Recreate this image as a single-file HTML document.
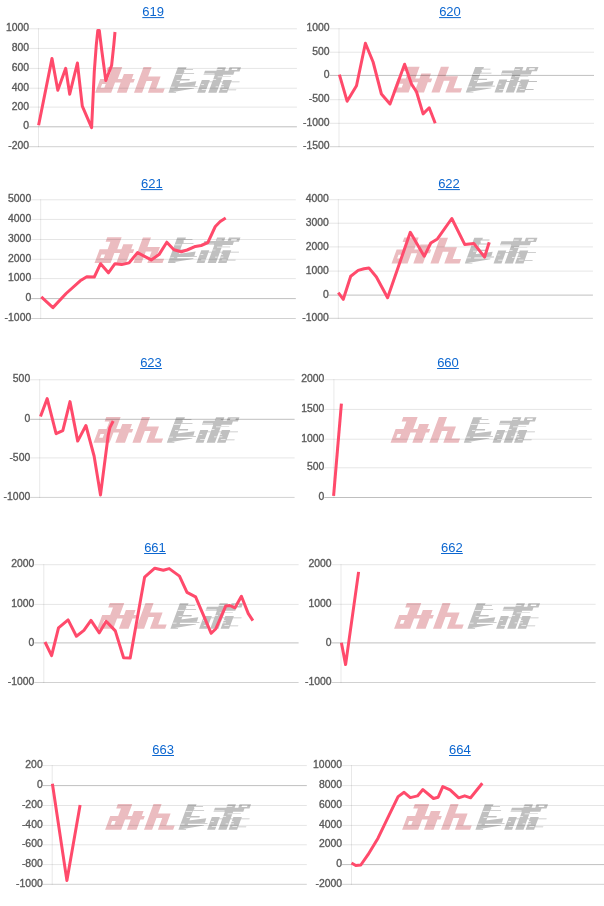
<!DOCTYPE html>
<html><head><meta charset="utf-8"><style>
html,body{margin:0;padding:0;background:#fff;width:604px;height:906px;overflow:hidden}
svg{display:block;will-change:transform}
.lb,.tt{opacity:0.999}
.lb{font-family:"Liberation Sans",sans-serif;font-size:10.4px;fill:#5a5a5a;stroke:#5a5a5a;stroke-width:0.35px}
.tt{font-family:"Liberation Sans",sans-serif;font-size:13px;fill:#0b66d0}
</style></head><body>
<svg width="604" height="906" viewBox="0 0 604 906">
<path d="M107.85,67.00 L122.25,67.00 L120.62,71.40 L106.22,71.40ZM111.09,71.20 L120.69,71.20 L117.77,79.10 L108.17,79.10ZM100.24,78.90 L134.84,78.90 L133.47,82.60 L98.87,82.60ZM123.89,73.90 L133.59,73.90 L126.60,92.80 L116.90,92.80ZM98.95,82.40 L115.05,82.40 L111.20,92.80 L95.10,92.80ZM100.75,87.80 L104.35,87.80 L105.72,84.10 L102.12,84.10ZM143.51,67.10 L151.61,67.10 L142.10,92.80 L134.00,92.80ZM147.89,76.60 L160.59,76.60 L158.93,81.10 L146.23,81.10ZM153.89,76.60 L160.59,76.60 L154.60,92.80 L147.90,92.80ZM149.49,88.50 L164.69,88.50 L163.10,92.80 L147.90,92.80Z" fill="#ebbcc0" fill-rule="nonzero"/><path d="M177.87,67.20 L185.37,67.20 L175.90,92.80 L168.40,92.80ZM177.87,67.20 L186.57,67.20 L185.91,69.00 L177.21,69.00ZM177.21,69.00 L193.21,69.00 L192.91,69.80 L176.91,69.80ZM176.39,71.20 L184.59,71.20 L184.00,72.80 L175.80,72.80ZM175.73,73.00 L194.23,73.00 L193.93,73.80 L175.43,73.80ZM173.47,79.10 L189.87,79.10 L189.39,80.40 L172.99,80.40ZM178.50,83.60 L196.29,81.20 L194.93,85.70 L177.43,86.50ZM170.92,86.00 L197.72,86.00 L197.42,86.80 L170.62,86.80ZM168.40,92.80 L170.18,88.00 L194.08,88.00 L193.85,88.60ZM217.67,67.20 L225.97,67.20 L216.50,92.80 L208.20,92.80ZM204.98,70.70 L234.78,70.70 L233.30,74.70 L203.50,74.70ZM214.30,76.30 L230.90,76.30 L230.61,77.10 L214.01,77.10ZM201.87,79.90 L209.87,79.90 L205.10,92.80 L197.10,92.80ZM223.37,79.90 L231.87,79.90 L227.10,92.80 L218.60,92.80ZM201.32,81.40 L239.72,81.40 L239.42,82.20 L201.02,82.20ZM219.86,89.40 L236.36,89.40 L236.06,90.20 L219.56,90.20ZM229.57,67.20 L241.07,67.20 L239.48,71.50 L227.98,71.50ZM231.50,70.10 L237.00,70.10 L237.55,68.60 L232.05,68.60Z" fill="#c0c0c0" fill-rule="nonzero"/><path d="M217.21,69.25 L222.51,69.25 L222.25,69.95 L216.95,69.95ZM204.02,73.55 L214.62,73.55 L214.36,74.25 L203.76,74.25ZM217.75,76.45 L230.75,76.45 L230.49,77.15 L217.49,77.15ZM213.08,79.35 L216.28,79.35 L216.02,80.05 L212.82,80.05ZM201.34,84.05 L204.04,84.05 L203.78,84.75 L201.08,84.75ZM220.94,84.05 L223.64,84.05 L223.38,84.75 L220.68,84.75ZM215.75,86.45 L218.35,86.45 L218.09,87.15 L215.49,87.15ZM220.95,86.45 L224.15,86.45 L223.89,87.15 L220.69,87.15ZM201.91,89.25 L207.21,89.25 L206.95,89.95 L201.65,89.95ZM222.51,89.25 L227.31,89.25 L227.05,89.95 L222.25,89.95ZM175.76,74.25 L182.16,74.25 L181.90,74.95 L175.50,74.95ZM176.74,80.25 L179.94,80.25 L179.68,80.95 L176.48,80.95ZM170.90,86.85 L174.70,86.85 L174.44,87.55 L170.64,87.55Z" fill="#fff" opacity="0.85"/>
<rect x="28.90" y="28.30" width="268.00" height="1" fill="rgba(0,0,0,0.1)"/>
<text x="29.00" y="31.40" text-anchor="end" class="lb">1000</text>
<rect x="28.90" y="47.90" width="268.00" height="1" fill="rgba(0,0,0,0.1)"/>
<text x="29.00" y="51.00" text-anchor="end" class="lb">800</text>
<rect x="28.90" y="67.90" width="268.00" height="1" fill="rgba(0,0,0,0.1)"/>
<text x="29.00" y="71.00" text-anchor="end" class="lb">600</text>
<rect x="28.90" y="87.70" width="268.00" height="1" fill="rgba(0,0,0,0.1)"/>
<text x="29.00" y="90.80" text-anchor="end" class="lb">400</text>
<rect x="28.90" y="106.60" width="268.00" height="1" fill="rgba(0,0,0,0.1)"/>
<text x="29.00" y="109.70" text-anchor="end" class="lb">200</text>
<rect x="28.90" y="126.30" width="268.00" height="1" fill="rgba(0,0,0,0.25)"/>
<text x="29.00" y="129.40" text-anchor="end" class="lb">0</text>
<rect x="28.90" y="146.20" width="268.00" height="1" fill="rgba(0,0,0,0.18)"/>
<text x="29.00" y="149.30" text-anchor="end" class="lb">-200</text>
<rect x="38.00" y="28.30" width="1" height="118.90" fill="rgba(0,0,0,0.09)"/>
<text x="153.20" y="15.70" text-anchor="middle" class="tt">619</text>
<rect x="142.30" y="17.10" width="21.8" height="1" fill="#0b66d0"/>
<polyline points="38.60,125.30 52.00,58.40 57.80,90.20 65.70,68.30 69.70,94.20 77.40,63.00 82.30,106.10 91.60,127.60 94.30,71.40 96.30,44.90 97.80,30.50 99.30,30.50 101.90,51.50 105.80,80.50 111.60,65.50 113.80,45.00 115.00,32.00" fill="none" stroke="#ff4a6b" stroke-width="3.0" stroke-linejoin="round" stroke-linecap="butt"/>
<path d="M405.25,66.70 L419.65,66.70 L418.02,71.10 L403.62,71.10ZM408.49,70.90 L418.09,70.90 L415.17,78.80 L405.57,78.80ZM397.64,78.60 L432.24,78.60 L430.87,82.30 L396.27,82.30ZM421.29,73.60 L430.99,73.60 L424.00,92.50 L414.30,92.50ZM396.35,82.10 L412.45,82.10 L408.60,92.50 L392.50,92.50ZM398.15,87.50 L401.75,87.50 L403.12,83.80 L399.52,83.80ZM440.91,66.80 L449.01,66.80 L439.50,92.50 L431.40,92.50ZM445.29,76.30 L457.99,76.30 L456.33,80.80 L443.63,80.80ZM451.29,76.30 L457.99,76.30 L452.00,92.50 L445.30,92.50ZM446.89,88.20 L462.09,88.20 L460.50,92.50 L445.30,92.50Z" fill="#ebbcc0" fill-rule="nonzero"/><path d="M475.27,66.90 L482.77,66.90 L473.30,92.50 L465.80,92.50ZM475.27,66.90 L483.97,66.90 L483.31,68.70 L474.61,68.70ZM474.61,68.70 L490.61,68.70 L490.31,69.50 L474.31,69.50ZM473.79,70.90 L481.99,70.90 L481.40,72.50 L473.20,72.50ZM473.13,72.70 L491.63,72.70 L491.33,73.50 L472.83,73.50ZM470.87,78.80 L487.27,78.80 L486.79,80.10 L470.39,80.10ZM475.90,83.30 L493.69,80.90 L492.33,85.40 L474.83,86.20ZM468.32,85.70 L495.12,85.70 L494.82,86.50 L468.02,86.50ZM465.80,92.50 L467.58,87.70 L491.48,87.70 L491.25,88.30ZM515.07,66.90 L523.37,66.90 L513.90,92.50 L505.60,92.50ZM502.38,70.40 L532.18,70.40 L530.70,74.40 L500.90,74.40ZM511.71,76.00 L528.31,76.00 L528.01,76.80 L511.41,76.80ZM499.27,79.60 L507.27,79.60 L502.50,92.50 L494.50,92.50ZM520.77,79.60 L529.27,79.60 L524.50,92.50 L516.00,92.50ZM498.72,81.10 L537.12,81.10 L536.82,81.90 L498.42,81.90ZM517.26,89.10 L533.76,89.10 L533.46,89.90 L516.96,89.90ZM526.97,66.90 L538.47,66.90 L536.88,71.20 L525.38,71.20ZM528.90,69.80 L534.40,69.80 L534.95,68.30 L529.45,68.30Z" fill="#c0c0c0" fill-rule="nonzero"/><path d="M514.61,68.95 L519.91,68.95 L519.65,69.65 L514.35,69.65ZM501.42,73.25 L512.02,73.25 L511.76,73.95 L501.16,73.95ZM515.15,76.15 L528.15,76.15 L527.89,76.85 L514.89,76.85ZM510.48,79.05 L513.68,79.05 L513.42,79.75 L510.22,79.75ZM498.74,83.75 L501.44,83.75 L501.18,84.45 L498.48,84.45ZM518.34,83.75 L521.04,83.75 L520.78,84.45 L518.08,84.45ZM513.15,86.15 L515.75,86.15 L515.49,86.85 L512.89,86.85ZM518.35,86.15 L521.55,86.15 L521.29,86.85 L518.09,86.85ZM499.31,88.95 L504.61,88.95 L504.35,89.65 L499.05,89.65ZM519.91,88.95 L524.71,88.95 L524.45,89.65 L519.65,89.65ZM473.16,73.95 L479.56,73.95 L479.30,74.65 L472.90,74.65ZM474.14,79.95 L477.34,79.95 L477.08,80.65 L473.88,80.65ZM468.30,86.55 L472.10,86.55 L471.84,87.25 L468.04,87.25Z" fill="#fff" opacity="0.85"/>
<rect x="329.40" y="28.30" width="264.60" height="1" fill="rgba(0,0,0,0.1)"/>
<text x="329.50" y="31.40" text-anchor="end" class="lb">1000</text>
<rect x="329.40" y="51.70" width="264.60" height="1" fill="rgba(0,0,0,0.1)"/>
<text x="329.50" y="54.80" text-anchor="end" class="lb">500</text>
<rect x="329.40" y="74.90" width="264.60" height="1" fill="rgba(0,0,0,0.25)"/>
<text x="329.50" y="78.00" text-anchor="end" class="lb">0</text>
<rect x="329.40" y="99.20" width="264.60" height="1" fill="rgba(0,0,0,0.1)"/>
<text x="329.50" y="102.30" text-anchor="end" class="lb">-500</text>
<rect x="329.40" y="122.80" width="264.60" height="1" fill="rgba(0,0,0,0.1)"/>
<text x="329.50" y="125.90" text-anchor="end" class="lb">-1000</text>
<rect x="329.40" y="146.20" width="264.60" height="1" fill="rgba(0,0,0,0.18)"/>
<text x="329.50" y="149.30" text-anchor="end" class="lb">-1500</text>
<rect x="338.50" y="28.30" width="1" height="118.90" fill="rgba(0,0,0,0.09)"/>
<text x="450.00" y="15.70" text-anchor="middle" class="tt">620</text>
<rect x="439.10" y="17.10" width="21.8" height="1" fill="#0b66d0"/>
<polyline points="339.40,74.70 347.10,101.20 356.50,85.70 365.40,43.20 373.10,62.00 381.40,94.00 390.00,104.00 404.60,64.20 411.50,84.10 416.50,91.80 423.10,113.90 429.20,107.80 435.20,123.30" fill="none" stroke="#ff4a6b" stroke-width="3.0" stroke-linejoin="round" stroke-linecap="butt"/>
<path d="M107.25,237.30 L121.65,237.30 L120.02,241.70 L105.62,241.70ZM110.49,241.50 L120.09,241.50 L117.17,249.40 L107.57,249.40ZM99.64,249.20 L134.24,249.20 L132.87,252.90 L98.27,252.90ZM123.29,244.20 L132.99,244.20 L126.00,263.10 L116.30,263.10ZM98.35,252.70 L114.45,252.70 L110.60,263.10 L94.50,263.10ZM100.15,258.10 L103.75,258.10 L105.12,254.40 L101.52,254.40ZM142.91,237.40 L151.01,237.40 L141.50,263.10 L133.40,263.10ZM147.29,246.90 L159.99,246.90 L158.33,251.40 L145.63,251.40ZM153.29,246.90 L159.99,246.90 L154.00,263.10 L147.30,263.10ZM148.89,258.80 L164.09,258.80 L162.50,263.10 L147.30,263.10Z" fill="#ebbcc0" fill-rule="nonzero"/><path d="M177.27,237.50 L184.77,237.50 L175.30,263.10 L167.80,263.10ZM177.27,237.50 L185.97,237.50 L185.31,239.30 L176.61,239.30ZM176.61,239.30 L192.61,239.30 L192.31,240.10 L176.31,240.10ZM175.79,241.50 L183.99,241.50 L183.40,243.10 L175.20,243.10ZM175.13,243.30 L193.63,243.30 L193.33,244.10 L174.83,244.10ZM172.87,249.40 L189.27,249.40 L188.79,250.70 L172.39,250.70ZM177.90,253.90 L195.69,251.50 L194.33,256.00 L176.83,256.80ZM170.32,256.30 L197.12,256.30 L196.82,257.10 L170.02,257.10ZM167.80,263.10 L169.58,258.30 L193.48,258.30 L193.25,258.90ZM217.07,237.50 L225.37,237.50 L215.90,263.10 L207.60,263.10ZM204.38,241.00 L234.18,241.00 L232.70,245.00 L202.90,245.00ZM213.70,246.60 L230.30,246.60 L230.01,247.40 L213.41,247.40ZM201.27,250.20 L209.27,250.20 L204.50,263.10 L196.50,263.10ZM222.77,250.20 L231.27,250.20 L226.50,263.10 L218.00,263.10ZM200.72,251.70 L239.12,251.70 L238.82,252.50 L200.42,252.50ZM219.26,259.70 L235.76,259.70 L235.46,260.50 L218.96,260.50ZM228.97,237.50 L240.47,237.50 L238.88,241.80 L227.38,241.80ZM230.90,240.40 L236.40,240.40 L236.95,238.90 L231.45,238.90Z" fill="#c0c0c0" fill-rule="nonzero"/><path d="M216.61,239.55 L221.91,239.55 L221.65,240.25 L216.35,240.25ZM203.42,243.85 L214.02,243.85 L213.76,244.55 L203.16,244.55ZM217.15,246.75 L230.15,246.75 L229.89,247.45 L216.89,247.45ZM212.48,249.65 L215.68,249.65 L215.42,250.35 L212.22,250.35ZM200.74,254.35 L203.44,254.35 L203.18,255.05 L200.48,255.05ZM220.34,254.35 L223.04,254.35 L222.78,255.05 L220.08,255.05ZM215.15,256.75 L217.75,256.75 L217.49,257.45 L214.89,257.45ZM220.35,256.75 L223.55,256.75 L223.29,257.45 L220.09,257.45ZM201.31,259.55 L206.61,259.55 L206.35,260.25 L201.05,260.25ZM221.91,259.55 L226.71,259.55 L226.45,260.25 L221.65,260.25ZM175.16,244.55 L181.56,244.55 L181.30,245.25 L174.90,245.25ZM176.14,250.55 L179.34,250.55 L179.08,251.25 L175.88,251.25ZM170.30,257.15 L174.10,257.15 L173.84,257.85 L170.04,257.85Z" fill="#fff" opacity="0.85"/>
<rect x="31.10" y="199.30" width="264.70" height="1" fill="rgba(0,0,0,0.1)"/>
<text x="31.20" y="202.40" text-anchor="end" class="lb">5000</text>
<rect x="31.10" y="218.90" width="264.70" height="1" fill="rgba(0,0,0,0.1)"/>
<text x="31.20" y="222.00" text-anchor="end" class="lb">4000</text>
<rect x="31.10" y="239.00" width="264.70" height="1" fill="rgba(0,0,0,0.1)"/>
<text x="31.20" y="242.10" text-anchor="end" class="lb">3000</text>
<rect x="31.10" y="258.80" width="264.70" height="1" fill="rgba(0,0,0,0.1)"/>
<text x="31.20" y="261.90" text-anchor="end" class="lb">2000</text>
<rect x="31.10" y="278.10" width="264.70" height="1" fill="rgba(0,0,0,0.1)"/>
<text x="31.20" y="281.20" text-anchor="end" class="lb">1000</text>
<rect x="31.10" y="298.10" width="264.70" height="1" fill="rgba(0,0,0,0.25)"/>
<text x="31.20" y="301.20" text-anchor="end" class="lb">0</text>
<rect x="31.10" y="318.00" width="264.70" height="1" fill="rgba(0,0,0,0.18)"/>
<text x="31.20" y="321.10" text-anchor="end" class="lb">-1000</text>
<rect x="40.20" y="199.30" width="1" height="119.70" fill="rgba(0,0,0,0.09)"/>
<text x="151.80" y="187.70" text-anchor="middle" class="tt">621</text>
<rect x="140.90" y="189.10" width="21.8" height="1" fill="#0b66d0"/>
<polyline points="41.30,296.90 52.90,307.60 66.10,293.50 80.20,280.80 86.80,276.70 94.30,277.00 100.60,263.70 108.40,272.80 115.00,263.70 121.60,264.60 129.10,262.90 137.50,252.60 151.20,259.90 159.00,254.60 166.80,242.20 173.90,249.70 181.30,251.70 187.10,250.00 195.40,246.40 201.20,245.50 207.80,242.70 215.30,226.50 220.20,221.50 225.70,217.90" fill="none" stroke="#ff4a6b" stroke-width="3.0" stroke-linejoin="round" stroke-linecap="butt"/>
<path d="M404.25,237.60 L418.65,237.60 L417.02,242.00 L402.62,242.00ZM407.49,241.80 L417.09,241.80 L414.17,249.70 L404.57,249.70ZM396.64,249.50 L431.24,249.50 L429.87,253.20 L395.27,253.20ZM420.29,244.50 L429.99,244.50 L423.00,263.40 L413.30,263.40ZM395.35,253.00 L411.45,253.00 L407.60,263.40 L391.50,263.40ZM397.15,258.40 L400.75,258.40 L402.12,254.70 L398.52,254.70ZM439.91,237.70 L448.01,237.70 L438.50,263.40 L430.40,263.40ZM444.29,247.20 L456.99,247.20 L455.33,251.70 L442.63,251.70ZM450.29,247.20 L456.99,247.20 L451.00,263.40 L444.30,263.40ZM445.89,259.10 L461.09,259.10 L459.50,263.40 L444.30,263.40Z" fill="#ebbcc0" fill-rule="nonzero"/><path d="M474.27,237.80 L481.77,237.80 L472.30,263.40 L464.80,263.40ZM474.27,237.80 L482.97,237.80 L482.31,239.60 L473.61,239.60ZM473.61,239.60 L489.61,239.60 L489.31,240.40 L473.31,240.40ZM472.79,241.80 L480.99,241.80 L480.40,243.40 L472.20,243.40ZM472.13,243.60 L490.63,243.60 L490.33,244.40 L471.83,244.40ZM469.87,249.70 L486.27,249.70 L485.79,251.00 L469.39,251.00ZM474.90,254.20 L492.69,251.80 L491.33,256.30 L473.83,257.10ZM467.32,256.60 L494.12,256.60 L493.82,257.40 L467.02,257.40ZM464.80,263.40 L466.58,258.60 L490.48,258.60 L490.25,259.20ZM514.07,237.80 L522.37,237.80 L512.90,263.40 L504.60,263.40ZM501.38,241.30 L531.18,241.30 L529.70,245.30 L499.90,245.30ZM510.71,246.90 L527.31,246.90 L527.01,247.70 L510.41,247.70ZM498.27,250.50 L506.27,250.50 L501.50,263.40 L493.50,263.40ZM519.77,250.50 L528.27,250.50 L523.50,263.40 L515.00,263.40ZM497.72,252.00 L536.12,252.00 L535.82,252.80 L497.42,252.80ZM516.26,260.00 L532.76,260.00 L532.46,260.80 L515.96,260.80ZM525.97,237.80 L537.47,237.80 L535.88,242.10 L524.38,242.10ZM527.90,240.70 L533.40,240.70 L533.95,239.20 L528.45,239.20Z" fill="#c0c0c0" fill-rule="nonzero"/><path d="M513.61,239.85 L518.91,239.85 L518.65,240.55 L513.35,240.55ZM500.42,244.15 L511.02,244.15 L510.76,244.85 L500.16,244.85ZM514.15,247.05 L527.15,247.05 L526.89,247.75 L513.89,247.75ZM509.48,249.95 L512.68,249.95 L512.42,250.65 L509.22,250.65ZM497.74,254.65 L500.44,254.65 L500.18,255.35 L497.48,255.35ZM517.34,254.65 L520.04,254.65 L519.78,255.35 L517.08,255.35ZM512.15,257.05 L514.75,257.05 L514.49,257.75 L511.89,257.75ZM517.35,257.05 L520.55,257.05 L520.29,257.75 L517.09,257.75ZM498.31,259.85 L503.61,259.85 L503.35,260.55 L498.05,260.55ZM518.91,259.85 L523.71,259.85 L523.45,260.55 L518.65,260.55ZM472.16,244.85 L478.56,244.85 L478.30,245.55 L471.90,245.55ZM473.14,250.85 L476.34,250.85 L476.08,251.55 L472.88,251.55ZM467.30,257.45 L471.10,257.45 L470.84,258.15 L467.04,258.15Z" fill="#fff" opacity="0.85"/>
<rect x="328.70" y="199.20" width="264.20" height="1" fill="rgba(0,0,0,0.1)"/>
<text x="328.80" y="202.30" text-anchor="end" class="lb">4000</text>
<rect x="328.70" y="222.70" width="264.20" height="1" fill="rgba(0,0,0,0.1)"/>
<text x="328.80" y="225.80" text-anchor="end" class="lb">3000</text>
<rect x="328.70" y="246.40" width="264.20" height="1" fill="rgba(0,0,0,0.1)"/>
<text x="328.80" y="249.50" text-anchor="end" class="lb">2000</text>
<rect x="328.70" y="270.60" width="264.20" height="1" fill="rgba(0,0,0,0.1)"/>
<text x="328.80" y="273.70" text-anchor="end" class="lb">1000</text>
<rect x="328.70" y="294.60" width="264.20" height="1" fill="rgba(0,0,0,0.25)"/>
<text x="328.80" y="297.70" text-anchor="end" class="lb">0</text>
<rect x="328.70" y="317.80" width="264.20" height="1" fill="rgba(0,0,0,0.18)"/>
<text x="328.80" y="320.90" text-anchor="end" class="lb">-1000</text>
<rect x="337.80" y="199.20" width="1" height="119.60" fill="rgba(0,0,0,0.09)"/>
<text x="449.00" y="187.70" text-anchor="middle" class="tt">622</text>
<rect x="438.10" y="189.10" width="21.8" height="1" fill="#0b66d0"/>
<polyline points="338.30,292.70 343.30,299.30 350.70,276.20 358.20,270.40 364.00,268.70 368.90,267.90 376.40,277.00 387.60,297.70 410.30,232.30 424.20,256.30 430.80,243.00 437.40,238.90 451.80,218.50 464.70,244.40 473.80,243.40 484.60,257.10 489.20,242.20" fill="none" stroke="#ff4a6b" stroke-width="3.0" stroke-linejoin="round" stroke-linecap="butt"/>
<path d="M106.25,417.00 L120.65,417.00 L119.02,421.40 L104.62,421.40ZM109.49,421.20 L119.09,421.20 L116.17,429.10 L106.57,429.10ZM98.64,428.90 L133.24,428.90 L131.87,432.60 L97.27,432.60ZM122.29,423.90 L131.99,423.90 L125.00,442.80 L115.30,442.80ZM97.35,432.40 L113.45,432.40 L109.60,442.80 L93.50,442.80ZM99.15,437.80 L102.75,437.80 L104.12,434.10 L100.52,434.10ZM141.91,417.10 L150.01,417.10 L140.50,442.80 L132.40,442.80ZM146.29,426.60 L158.99,426.60 L157.33,431.10 L144.63,431.10ZM152.29,426.60 L158.99,426.60 L153.00,442.80 L146.30,442.80ZM147.89,438.50 L163.09,438.50 L161.50,442.80 L146.30,442.80Z" fill="#ebbcc0" fill-rule="nonzero"/><path d="M176.27,417.20 L183.77,417.20 L174.30,442.80 L166.80,442.80ZM176.27,417.20 L184.97,417.20 L184.31,419.00 L175.61,419.00ZM175.61,419.00 L191.61,419.00 L191.31,419.80 L175.31,419.80ZM174.79,421.20 L182.99,421.20 L182.40,422.80 L174.20,422.80ZM174.13,423.00 L192.63,423.00 L192.33,423.80 L173.83,423.80ZM171.87,429.10 L188.27,429.10 L187.79,430.40 L171.39,430.40ZM176.90,433.60 L194.69,431.20 L193.33,435.70 L175.83,436.50ZM169.32,436.00 L196.12,436.00 L195.82,436.80 L169.02,436.80ZM166.80,442.80 L168.58,438.00 L192.48,438.00 L192.25,438.60ZM216.07,417.20 L224.37,417.20 L214.90,442.80 L206.60,442.80ZM203.38,420.70 L233.18,420.70 L231.70,424.70 L201.90,424.70ZM212.70,426.30 L229.30,426.30 L229.01,427.10 L212.41,427.10ZM200.27,429.90 L208.27,429.90 L203.50,442.80 L195.50,442.80ZM221.77,429.90 L230.27,429.90 L225.50,442.80 L217.00,442.80ZM199.72,431.40 L238.12,431.40 L237.82,432.20 L199.42,432.20ZM218.26,439.40 L234.76,439.40 L234.46,440.20 L217.96,440.20ZM227.97,417.20 L239.47,417.20 L237.88,421.50 L226.38,421.50ZM229.90,420.10 L235.40,420.10 L235.95,418.60 L230.45,418.60Z" fill="#c0c0c0" fill-rule="nonzero"/><path d="M215.61,419.25 L220.91,419.25 L220.65,419.95 L215.35,419.95ZM202.42,423.55 L213.02,423.55 L212.76,424.25 L202.16,424.25ZM216.15,426.45 L229.15,426.45 L228.89,427.15 L215.89,427.15ZM211.48,429.35 L214.68,429.35 L214.42,430.05 L211.22,430.05ZM199.74,434.05 L202.44,434.05 L202.18,434.75 L199.48,434.75ZM219.34,434.05 L222.04,434.05 L221.78,434.75 L219.08,434.75ZM214.15,436.45 L216.75,436.45 L216.49,437.15 L213.89,437.15ZM219.35,436.45 L222.55,436.45 L222.29,437.15 L219.09,437.15ZM200.31,439.25 L205.61,439.25 L205.35,439.95 L200.05,439.95ZM220.91,439.25 L225.71,439.25 L225.45,439.95 L220.65,439.95ZM174.16,424.25 L180.56,424.25 L180.30,424.95 L173.90,424.95ZM175.14,430.25 L178.34,430.25 L178.08,430.95 L174.88,430.95ZM169.30,436.85 L173.10,436.85 L172.84,437.55 L169.04,437.55Z" fill="#fff" opacity="0.85"/>
<rect x="30.10" y="379.30" width="264.50" height="1" fill="rgba(0,0,0,0.1)"/>
<text x="30.20" y="382.40" text-anchor="end" class="lb">500</text>
<rect x="30.10" y="418.80" width="264.50" height="1" fill="rgba(0,0,0,0.25)"/>
<text x="30.20" y="421.90" text-anchor="end" class="lb">0</text>
<rect x="30.10" y="457.40" width="264.50" height="1" fill="rgba(0,0,0,0.1)"/>
<text x="30.20" y="460.50" text-anchor="end" class="lb">-500</text>
<rect x="30.10" y="496.90" width="264.50" height="1" fill="rgba(0,0,0,0.18)"/>
<text x="30.20" y="500.00" text-anchor="end" class="lb">-1000</text>
<rect x="39.20" y="379.30" width="1" height="118.60" fill="rgba(0,0,0,0.09)"/>
<text x="151.00" y="366.60" text-anchor="middle" class="tt">623</text>
<rect x="140.10" y="368.00" width="21.8" height="1" fill="#0b66d0"/>
<polyline points="40.50,416.50 47.20,398.60 56.10,433.70 62.80,430.70 70.00,401.60 77.70,441.10 85.90,425.50 94.10,456.00 100.50,494.90 108.20,435.30 109.90,427.60 113.20,421.00" fill="none" stroke="#ff4a6b" stroke-width="3.0" stroke-linejoin="round" stroke-linecap="butt"/>
<path d="M403.25,417.00 L417.65,417.00 L416.02,421.40 L401.62,421.40ZM406.49,421.20 L416.09,421.20 L413.17,429.10 L403.57,429.10ZM395.64,428.90 L430.24,428.90 L428.87,432.60 L394.27,432.60ZM419.29,423.90 L428.99,423.90 L422.00,442.80 L412.30,442.80ZM394.35,432.40 L410.45,432.40 L406.60,442.80 L390.50,442.80ZM396.15,437.80 L399.75,437.80 L401.12,434.10 L397.52,434.10ZM438.91,417.10 L447.01,417.10 L437.50,442.80 L429.40,442.80ZM443.29,426.60 L455.99,426.60 L454.33,431.10 L441.63,431.10ZM449.29,426.60 L455.99,426.60 L450.00,442.80 L443.30,442.80ZM444.89,438.50 L460.09,438.50 L458.50,442.80 L443.30,442.80Z" fill="#ebbcc0" fill-rule="nonzero"/><path d="M473.27,417.20 L480.77,417.20 L471.30,442.80 L463.80,442.80ZM473.27,417.20 L481.97,417.20 L481.31,419.00 L472.61,419.00ZM472.61,419.00 L488.61,419.00 L488.31,419.80 L472.31,419.80ZM471.79,421.20 L479.99,421.20 L479.40,422.80 L471.20,422.80ZM471.13,423.00 L489.63,423.00 L489.33,423.80 L470.83,423.80ZM468.87,429.10 L485.27,429.10 L484.79,430.40 L468.39,430.40ZM473.90,433.60 L491.69,431.20 L490.33,435.70 L472.83,436.50ZM466.32,436.00 L493.12,436.00 L492.82,436.80 L466.02,436.80ZM463.80,442.80 L465.58,438.00 L489.48,438.00 L489.25,438.60ZM513.07,417.20 L521.37,417.20 L511.90,442.80 L503.60,442.80ZM500.38,420.70 L530.18,420.70 L528.70,424.70 L498.90,424.70ZM509.71,426.30 L526.31,426.30 L526.01,427.10 L509.41,427.10ZM497.27,429.90 L505.27,429.90 L500.50,442.80 L492.50,442.80ZM518.77,429.90 L527.27,429.90 L522.50,442.80 L514.00,442.80ZM496.72,431.40 L535.12,431.40 L534.82,432.20 L496.42,432.20ZM515.26,439.40 L531.76,439.40 L531.46,440.20 L514.96,440.20ZM524.97,417.20 L536.47,417.20 L534.88,421.50 L523.38,421.50ZM526.90,420.10 L532.40,420.10 L532.95,418.60 L527.45,418.60Z" fill="#c0c0c0" fill-rule="nonzero"/><path d="M512.61,419.25 L517.91,419.25 L517.65,419.95 L512.35,419.95ZM499.42,423.55 L510.02,423.55 L509.76,424.25 L499.16,424.25ZM513.15,426.45 L526.15,426.45 L525.89,427.15 L512.89,427.15ZM508.48,429.35 L511.68,429.35 L511.42,430.05 L508.22,430.05ZM496.74,434.05 L499.44,434.05 L499.18,434.75 L496.48,434.75ZM516.34,434.05 L519.04,434.05 L518.78,434.75 L516.08,434.75ZM511.15,436.45 L513.75,436.45 L513.49,437.15 L510.89,437.15ZM516.35,436.45 L519.55,436.45 L519.29,437.15 L516.09,437.15ZM497.31,439.25 L502.61,439.25 L502.35,439.95 L497.05,439.95ZM517.91,439.25 L522.71,439.25 L522.45,439.95 L517.65,439.95ZM471.16,424.25 L477.56,424.25 L477.30,424.95 L470.90,424.95ZM472.14,430.25 L475.34,430.25 L475.08,430.95 L471.88,430.95ZM466.30,436.85 L470.10,436.85 L469.84,437.55 L466.04,437.55Z" fill="#fff" opacity="0.85"/>
<rect x="324.30" y="379.20" width="267.50" height="1" fill="rgba(0,0,0,0.1)"/>
<text x="324.40" y="382.30" text-anchor="end" class="lb">2000</text>
<rect x="324.30" y="408.90" width="267.50" height="1" fill="rgba(0,0,0,0.1)"/>
<text x="324.40" y="412.00" text-anchor="end" class="lb">1500</text>
<rect x="324.30" y="438.70" width="267.50" height="1" fill="rgba(0,0,0,0.1)"/>
<text x="324.40" y="441.80" text-anchor="end" class="lb">1000</text>
<rect x="324.30" y="467.30" width="267.50" height="1" fill="rgba(0,0,0,0.1)"/>
<text x="324.40" y="470.40" text-anchor="end" class="lb">500</text>
<rect x="324.30" y="497.00" width="267.50" height="1" fill="rgba(0,0,0,0.25)"/>
<text x="324.40" y="500.10" text-anchor="end" class="lb">0</text>
<rect x="333.40" y="379.20" width="1" height="118.80" fill="rgba(0,0,0,0.09)"/>
<text x="448.00" y="366.60" text-anchor="middle" class="tt">660</text>
<rect x="437.10" y="368.00" width="21.8" height="1" fill="#0b66d0"/>
<polyline points="333.60,495.90 341.40,403.60" fill="none" stroke="#ff4a6b" stroke-width="3.0" stroke-linejoin="round" stroke-linecap="butt"/>
<path d="M109.85,603.00 L124.25,603.00 L122.62,607.40 L108.22,607.40ZM113.09,607.20 L122.69,607.20 L119.77,615.10 L110.17,615.10ZM102.24,614.90 L136.84,614.90 L135.47,618.60 L100.87,618.60ZM125.89,609.90 L135.59,609.90 L128.60,628.80 L118.90,628.80ZM100.95,618.40 L117.05,618.40 L113.20,628.80 L97.10,628.80ZM102.75,623.80 L106.35,623.80 L107.72,620.10 L104.12,620.10ZM145.51,603.10 L153.61,603.10 L144.10,628.80 L136.00,628.80ZM149.89,612.60 L162.59,612.60 L160.93,617.10 L148.23,617.10ZM155.89,612.60 L162.59,612.60 L156.60,628.80 L149.90,628.80ZM151.49,624.50 L166.69,624.50 L165.10,628.80 L149.90,628.80Z" fill="#ebbcc0" fill-rule="nonzero"/><path d="M179.87,603.20 L187.37,603.20 L177.90,628.80 L170.40,628.80ZM179.87,603.20 L188.57,603.20 L187.91,605.00 L179.21,605.00ZM179.21,605.00 L195.21,605.00 L194.91,605.80 L178.91,605.80ZM178.39,607.20 L186.59,607.20 L186.00,608.80 L177.80,608.80ZM177.73,609.00 L196.23,609.00 L195.93,609.80 L177.43,609.80ZM175.47,615.10 L191.87,615.10 L191.39,616.40 L174.99,616.40ZM180.50,619.60 L198.29,617.20 L196.93,621.70 L179.43,622.50ZM172.92,622.00 L199.72,622.00 L199.42,622.80 L172.62,622.80ZM170.40,628.80 L172.18,624.00 L196.08,624.00 L195.85,624.60ZM219.67,603.20 L227.97,603.20 L218.50,628.80 L210.20,628.80ZM206.98,606.70 L236.78,606.70 L235.30,610.70 L205.50,610.70ZM216.30,612.30 L232.90,612.30 L232.61,613.10 L216.01,613.10ZM203.87,615.90 L211.87,615.90 L207.10,628.80 L199.10,628.80ZM225.37,615.90 L233.87,615.90 L229.10,628.80 L220.60,628.80ZM203.32,617.40 L241.72,617.40 L241.42,618.20 L203.02,618.20ZM221.86,625.40 L238.36,625.40 L238.06,626.20 L221.56,626.20ZM231.57,603.20 L243.07,603.20 L241.48,607.50 L229.98,607.50ZM233.50,606.10 L239.00,606.10 L239.55,604.60 L234.05,604.60Z" fill="#c0c0c0" fill-rule="nonzero"/><path d="M219.21,605.25 L224.51,605.25 L224.25,605.95 L218.95,605.95ZM206.02,609.55 L216.62,609.55 L216.36,610.25 L205.76,610.25ZM219.75,612.45 L232.75,612.45 L232.49,613.15 L219.49,613.15ZM215.08,615.35 L218.28,615.35 L218.02,616.05 L214.82,616.05ZM203.34,620.05 L206.04,620.05 L205.78,620.75 L203.08,620.75ZM222.94,620.05 L225.64,620.05 L225.38,620.75 L222.68,620.75ZM217.75,622.45 L220.35,622.45 L220.09,623.15 L217.49,623.15ZM222.95,622.45 L226.15,622.45 L225.89,623.15 L222.69,623.15ZM203.91,625.25 L209.21,625.25 L208.95,625.95 L203.65,625.95ZM224.51,625.25 L229.31,625.25 L229.05,625.95 L224.25,625.95ZM177.76,610.25 L184.16,610.25 L183.90,610.95 L177.50,610.95ZM178.74,616.25 L181.94,616.25 L181.68,616.95 L178.48,616.95ZM172.90,622.85 L176.70,622.85 L176.44,623.55 L172.64,623.55Z" fill="#fff" opacity="0.85"/>
<rect x="34.20" y="564.20" width="264.40" height="1" fill="rgba(0,0,0,0.1)"/>
<text x="34.30" y="567.30" text-anchor="end" class="lb">2000</text>
<rect x="34.20" y="603.90" width="264.40" height="1" fill="rgba(0,0,0,0.1)"/>
<text x="34.30" y="607.00" text-anchor="end" class="lb">1000</text>
<rect x="34.20" y="642.40" width="264.40" height="1" fill="rgba(0,0,0,0.25)"/>
<text x="34.30" y="645.50" text-anchor="end" class="lb">0</text>
<rect x="34.20" y="682.00" width="264.40" height="1" fill="rgba(0,0,0,0.18)"/>
<text x="34.30" y="685.10" text-anchor="end" class="lb">-1000</text>
<rect x="43.30" y="564.20" width="1" height="118.80" fill="rgba(0,0,0,0.09)"/>
<text x="155.00" y="551.60" text-anchor="middle" class="tt">661</text>
<rect x="144.10" y="553.00" width="21.8" height="1" fill="#0b66d0"/>
<polyline points="45.00,642.00 51.60,655.70 58.50,627.90 68.10,619.90 76.40,636.20 83.90,630.40 91.00,620.40 99.30,632.80 106.20,621.30 115.30,630.90 123.60,657.70 130.20,658.00 144.60,577.20 154.80,568.20 163.40,570.30 169.20,568.60 179.50,576.10 187.00,592.30 195.60,596.80 211.20,633.30 215.90,628.70 225.70,606.10 229.80,605.50 235.00,607.80 241.40,596.20 248.30,613.60 252.90,620.60" fill="none" stroke="#ff4a6b" stroke-width="3.0" stroke-linejoin="round" stroke-linecap="butt"/>
<path d="M406.85,603.00 L421.25,603.00 L419.62,607.40 L405.22,607.40ZM410.09,607.20 L419.69,607.20 L416.77,615.10 L407.17,615.10ZM399.24,614.90 L433.84,614.90 L432.47,618.60 L397.87,618.60ZM422.89,609.90 L432.59,609.90 L425.60,628.80 L415.90,628.80ZM397.95,618.40 L414.05,618.40 L410.20,628.80 L394.10,628.80ZM399.75,623.80 L403.35,623.80 L404.72,620.10 L401.12,620.10ZM442.51,603.10 L450.61,603.10 L441.10,628.80 L433.00,628.80ZM446.89,612.60 L459.59,612.60 L457.93,617.10 L445.23,617.10ZM452.89,612.60 L459.59,612.60 L453.60,628.80 L446.90,628.80ZM448.49,624.50 L463.69,624.50 L462.10,628.80 L446.90,628.80Z" fill="#ebbcc0" fill-rule="nonzero"/><path d="M476.87,603.20 L484.37,603.20 L474.90,628.80 L467.40,628.80ZM476.87,603.20 L485.57,603.20 L484.91,605.00 L476.21,605.00ZM476.21,605.00 L492.21,605.00 L491.91,605.80 L475.91,605.80ZM475.39,607.20 L483.59,607.20 L483.00,608.80 L474.80,608.80ZM474.73,609.00 L493.23,609.00 L492.93,609.80 L474.43,609.80ZM472.47,615.10 L488.87,615.10 L488.39,616.40 L471.99,616.40ZM477.50,619.60 L495.29,617.20 L493.93,621.70 L476.43,622.50ZM469.92,622.00 L496.72,622.00 L496.42,622.80 L469.62,622.80ZM467.40,628.80 L469.18,624.00 L493.08,624.00 L492.85,624.60ZM516.67,603.20 L524.97,603.20 L515.50,628.80 L507.20,628.80ZM503.98,606.70 L533.78,606.70 L532.30,610.70 L502.50,610.70ZM513.31,612.30 L529.90,612.30 L529.61,613.10 L513.01,613.10ZM500.87,615.90 L508.87,615.90 L504.10,628.80 L496.10,628.80ZM522.37,615.90 L530.87,615.90 L526.10,628.80 L517.60,628.80ZM500.32,617.40 L538.72,617.40 L538.42,618.20 L500.02,618.20ZM518.86,625.40 L535.36,625.40 L535.06,626.20 L518.56,626.20ZM528.57,603.20 L540.07,603.20 L538.48,607.50 L526.98,607.50ZM530.50,606.10 L536.00,606.10 L536.55,604.60 L531.05,604.60Z" fill="#c0c0c0" fill-rule="nonzero"/><path d="M516.21,605.25 L521.51,605.25 L521.25,605.95 L515.95,605.95ZM503.02,609.55 L513.62,609.55 L513.36,610.25 L502.76,610.25ZM516.75,612.45 L529.75,612.45 L529.49,613.15 L516.49,613.15ZM512.08,615.35 L515.28,615.35 L515.02,616.05 L511.82,616.05ZM500.34,620.05 L503.04,620.05 L502.78,620.75 L500.08,620.75ZM519.94,620.05 L522.64,620.05 L522.38,620.75 L519.68,620.75ZM514.75,622.45 L517.35,622.45 L517.09,623.15 L514.49,623.15ZM519.95,622.45 L523.15,622.45 L522.89,623.15 L519.69,623.15ZM500.91,625.25 L506.21,625.25 L505.95,625.95 L500.65,625.95ZM521.51,625.25 L526.31,625.25 L526.05,625.95 L521.25,625.95ZM474.76,610.25 L481.16,610.25 L480.90,610.95 L474.50,610.95ZM475.74,616.25 L478.94,616.25 L478.68,616.95 L475.48,616.95ZM469.90,622.85 L473.70,622.85 L473.44,623.55 L469.64,623.55Z" fill="#fff" opacity="0.85"/>
<rect x="331.40" y="564.20" width="264.20" height="1" fill="rgba(0,0,0,0.1)"/>
<text x="331.50" y="567.30" text-anchor="end" class="lb">2000</text>
<rect x="331.40" y="603.80" width="264.20" height="1" fill="rgba(0,0,0,0.1)"/>
<text x="331.50" y="606.90" text-anchor="end" class="lb">1000</text>
<rect x="331.40" y="642.40" width="264.20" height="1" fill="rgba(0,0,0,0.25)"/>
<text x="331.50" y="645.50" text-anchor="end" class="lb">0</text>
<rect x="331.40" y="682.00" width="264.20" height="1" fill="rgba(0,0,0,0.18)"/>
<text x="331.50" y="685.10" text-anchor="end" class="lb">-1000</text>
<rect x="340.50" y="564.20" width="1" height="118.80" fill="rgba(0,0,0,0.09)"/>
<text x="451.90" y="551.60" text-anchor="middle" class="tt">662</text>
<rect x="441.00" y="553.00" width="21.8" height="1" fill="#0b66d0"/>
<polyline points="341.40,642.80 345.60,664.60 358.60,571.90" fill="none" stroke="#ff4a6b" stroke-width="3.0" stroke-linejoin="round" stroke-linecap="butt"/>
<path d="M117.85,804.00 L132.25,804.00 L130.62,808.40 L116.22,808.40ZM121.09,808.20 L130.69,808.20 L127.77,816.10 L118.17,816.10ZM110.24,815.90 L144.84,815.90 L143.47,819.60 L108.87,819.60ZM133.89,810.90 L143.59,810.90 L136.60,829.80 L126.90,829.80ZM108.95,819.40 L125.05,819.40 L121.20,829.80 L105.10,829.80ZM110.75,824.80 L114.35,824.80 L115.72,821.10 L112.12,821.10ZM153.51,804.10 L161.61,804.10 L152.10,829.80 L144.00,829.80ZM157.89,813.60 L170.59,813.60 L168.93,818.10 L156.23,818.10ZM163.89,813.60 L170.59,813.60 L164.60,829.80 L157.90,829.80ZM159.49,825.50 L174.69,825.50 L173.10,829.80 L157.90,829.80Z" fill="#ebbcc0" fill-rule="nonzero"/><path d="M187.87,804.20 L195.37,804.20 L185.90,829.80 L178.40,829.80ZM187.87,804.20 L196.57,804.20 L195.91,806.00 L187.21,806.00ZM187.21,806.00 L203.21,806.00 L202.91,806.80 L186.91,806.80ZM186.39,808.20 L194.59,808.20 L194.00,809.80 L185.80,809.80ZM185.73,810.00 L204.23,810.00 L203.93,810.80 L185.43,810.80ZM183.47,816.10 L199.87,816.10 L199.39,817.40 L182.99,817.40ZM188.50,820.60 L206.29,818.20 L204.93,822.70 L187.43,823.50ZM180.92,823.00 L207.72,823.00 L207.42,823.80 L180.62,823.80ZM178.40,829.80 L180.18,825.00 L204.08,825.00 L203.85,825.60ZM227.67,804.20 L235.97,804.20 L226.50,829.80 L218.20,829.80ZM214.98,807.70 L244.78,807.70 L243.30,811.70 L213.50,811.70ZM224.30,813.30 L240.90,813.30 L240.61,814.10 L224.01,814.10ZM211.87,816.90 L219.87,816.90 L215.10,829.80 L207.10,829.80ZM233.37,816.90 L241.87,816.90 L237.10,829.80 L228.60,829.80ZM211.32,818.40 L249.72,818.40 L249.42,819.20 L211.02,819.20ZM229.86,826.40 L246.36,826.40 L246.06,827.20 L229.56,827.20ZM239.57,804.20 L251.07,804.20 L249.48,808.50 L237.98,808.50ZM241.50,807.10 L247.00,807.10 L247.55,805.60 L242.05,805.60Z" fill="#c0c0c0" fill-rule="nonzero"/><path d="M227.21,806.25 L232.51,806.25 L232.25,806.95 L226.95,806.95ZM214.02,810.55 L224.62,810.55 L224.36,811.25 L213.76,811.25ZM227.75,813.45 L240.75,813.45 L240.49,814.15 L227.49,814.15ZM223.08,816.35 L226.28,816.35 L226.02,817.05 L222.82,817.05ZM211.34,821.05 L214.04,821.05 L213.78,821.75 L211.08,821.75ZM230.94,821.05 L233.64,821.05 L233.38,821.75 L230.68,821.75ZM225.75,823.45 L228.35,823.45 L228.09,824.15 L225.49,824.15ZM230.95,823.45 L234.15,823.45 L233.89,824.15 L230.69,824.15ZM211.91,826.25 L217.21,826.25 L216.95,826.95 L211.65,826.95ZM232.51,826.25 L237.31,826.25 L237.05,826.95 L232.25,826.95ZM185.76,811.25 L192.16,811.25 L191.90,811.95 L185.50,811.95ZM186.74,817.25 L189.94,817.25 L189.68,817.95 L186.48,817.95ZM180.90,823.85 L184.70,823.85 L184.44,824.55 L180.64,824.55Z" fill="#fff" opacity="0.85"/>
<rect x="42.60" y="765.10" width="264.20" height="1" fill="rgba(0,0,0,0.1)"/>
<text x="42.70" y="768.20" text-anchor="end" class="lb">200</text>
<rect x="42.60" y="785.10" width="264.20" height="1" fill="rgba(0,0,0,0.25)"/>
<text x="42.70" y="788.20" text-anchor="end" class="lb">0</text>
<rect x="42.60" y="805.00" width="264.20" height="1" fill="rgba(0,0,0,0.1)"/>
<text x="42.70" y="808.10" text-anchor="end" class="lb">-200</text>
<rect x="42.60" y="824.90" width="264.20" height="1" fill="rgba(0,0,0,0.1)"/>
<text x="42.70" y="828.00" text-anchor="end" class="lb">-400</text>
<rect x="42.60" y="844.30" width="264.20" height="1" fill="rgba(0,0,0,0.1)"/>
<text x="42.70" y="847.40" text-anchor="end" class="lb">-600</text>
<rect x="42.60" y="864.10" width="264.20" height="1" fill="rgba(0,0,0,0.1)"/>
<text x="42.70" y="867.20" text-anchor="end" class="lb">-800</text>
<rect x="42.60" y="883.80" width="264.20" height="1" fill="rgba(0,0,0,0.18)"/>
<text x="42.70" y="886.90" text-anchor="end" class="lb">-1000</text>
<rect x="51.70" y="765.10" width="1" height="119.70" fill="rgba(0,0,0,0.09)"/>
<text x="163.10" y="753.60" text-anchor="middle" class="tt">663</text>
<rect x="152.20" y="755.00" width="21.8" height="1" fill="#0b66d0"/>
<polyline points="52.40,783.80 66.90,880.60 80.10,805.10" fill="none" stroke="#ff4a6b" stroke-width="3.0" stroke-linejoin="round" stroke-linecap="butt"/>
<path d="M414.85,804.00 L429.25,804.00 L427.62,808.40 L413.22,808.40ZM418.09,808.20 L427.69,808.20 L424.77,816.10 L415.17,816.10ZM407.24,815.90 L441.84,815.90 L440.47,819.60 L405.87,819.60ZM430.89,810.90 L440.59,810.90 L433.60,829.80 L423.90,829.80ZM405.95,819.40 L422.05,819.40 L418.20,829.80 L402.10,829.80ZM407.75,824.80 L411.35,824.80 L412.72,821.10 L409.12,821.10ZM450.51,804.10 L458.61,804.10 L449.10,829.80 L441.00,829.80ZM454.89,813.60 L467.59,813.60 L465.93,818.10 L453.23,818.10ZM460.89,813.60 L467.59,813.60 L461.60,829.80 L454.90,829.80ZM456.49,825.50 L471.69,825.50 L470.10,829.80 L454.90,829.80Z" fill="#ebbcc0" fill-rule="nonzero"/><path d="M484.87,804.20 L492.37,804.20 L482.90,829.80 L475.40,829.80ZM484.87,804.20 L493.57,804.20 L492.91,806.00 L484.21,806.00ZM484.21,806.00 L500.21,806.00 L499.91,806.80 L483.91,806.80ZM483.39,808.20 L491.59,808.20 L491.00,809.80 L482.80,809.80ZM482.73,810.00 L501.23,810.00 L500.93,810.80 L482.43,810.80ZM480.47,816.10 L496.87,816.10 L496.39,817.40 L479.99,817.40ZM485.50,820.60 L503.29,818.20 L501.93,822.70 L484.43,823.50ZM477.92,823.00 L504.72,823.00 L504.42,823.80 L477.62,823.80ZM475.40,829.80 L477.18,825.00 L501.08,825.00 L500.85,825.60ZM524.67,804.20 L532.97,804.20 L523.50,829.80 L515.20,829.80ZM511.98,807.70 L541.78,807.70 L540.30,811.70 L510.50,811.70ZM521.31,813.30 L537.90,813.30 L537.61,814.10 L521.01,814.10ZM508.87,816.90 L516.87,816.90 L512.10,829.80 L504.10,829.80ZM530.37,816.90 L538.87,816.90 L534.10,829.80 L525.60,829.80ZM508.32,818.40 L546.72,818.40 L546.42,819.20 L508.02,819.20ZM526.86,826.40 L543.36,826.40 L543.06,827.20 L526.56,827.20ZM536.57,804.20 L548.07,804.20 L546.48,808.50 L534.98,808.50ZM538.50,807.10 L544.00,807.10 L544.55,805.60 L539.05,805.60Z" fill="#c0c0c0" fill-rule="nonzero"/><path d="M524.21,806.25 L529.51,806.25 L529.25,806.95 L523.95,806.95ZM511.02,810.55 L521.62,810.55 L521.36,811.25 L510.76,811.25ZM524.75,813.45 L537.75,813.45 L537.49,814.15 L524.49,814.15ZM520.08,816.35 L523.28,816.35 L523.02,817.05 L519.82,817.05ZM508.34,821.05 L511.04,821.05 L510.78,821.75 L508.08,821.75ZM527.94,821.05 L530.64,821.05 L530.38,821.75 L527.68,821.75ZM522.75,823.45 L525.35,823.45 L525.09,824.15 L522.49,824.15ZM527.95,823.45 L531.15,823.45 L530.89,824.15 L527.69,824.15ZM508.91,826.25 L514.21,826.25 L513.95,826.95 L508.65,826.95ZM529.51,826.25 L534.31,826.25 L534.05,826.95 L529.25,826.95ZM482.76,811.25 L489.16,811.25 L488.90,811.95 L482.50,811.95ZM483.74,817.25 L486.94,817.25 L486.68,817.95 L483.48,817.95ZM477.90,823.85 L481.70,823.85 L481.44,824.55 L477.64,824.55Z" fill="#fff" opacity="0.85"/>
<rect x="341.90" y="765.10" width="264.10" height="1" fill="rgba(0,0,0,0.1)"/>
<text x="342.00" y="768.20" text-anchor="end" class="lb">10000</text>
<rect x="341.90" y="785.10" width="264.10" height="1" fill="rgba(0,0,0,0.1)"/>
<text x="342.00" y="788.20" text-anchor="end" class="lb">8000</text>
<rect x="341.90" y="805.00" width="264.10" height="1" fill="rgba(0,0,0,0.1)"/>
<text x="342.00" y="808.10" text-anchor="end" class="lb">6000</text>
<rect x="341.90" y="824.90" width="264.10" height="1" fill="rgba(0,0,0,0.1)"/>
<text x="342.00" y="828.00" text-anchor="end" class="lb">4000</text>
<rect x="341.90" y="844.30" width="264.10" height="1" fill="rgba(0,0,0,0.1)"/>
<text x="342.00" y="847.40" text-anchor="end" class="lb">2000</text>
<rect x="341.90" y="864.10" width="264.10" height="1" fill="rgba(0,0,0,0.25)"/>
<text x="342.00" y="867.20" text-anchor="end" class="lb">0</text>
<rect x="341.90" y="883.80" width="264.10" height="1" fill="rgba(0,0,0,0.18)"/>
<text x="342.00" y="886.90" text-anchor="end" class="lb">-2000</text>
<rect x="351.00" y="765.10" width="1" height="119.70" fill="rgba(0,0,0,0.09)"/>
<text x="459.90" y="753.60" text-anchor="middle" class="tt">664</text>
<rect x="449.00" y="755.00" width="21.8" height="1" fill="#0b66d0"/>
<polyline points="351.50,863.00 355.80,865.50 360.80,865.00 368.00,854.70 378.00,838.20 388.00,817.40 398.10,796.60 404.10,792.30 410.30,797.60 417.50,795.90 422.90,789.60 433.50,798.50 438.20,797.20 442.80,786.60 450.10,789.90 458.70,797.80 464.70,795.80 470.60,797.80 482.30,783.20" fill="none" stroke="#ff4a6b" stroke-width="3.0" stroke-linejoin="round" stroke-linecap="butt"/>
</svg>
</body></html>
